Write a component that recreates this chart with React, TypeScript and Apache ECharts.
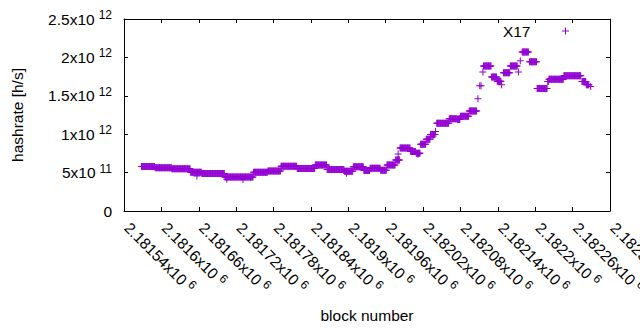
import React, { useEffect, useRef } from 'react';
import * as echarts from 'echarts';

// Runs of blocks that share the same hashrate (values in units of 1e12 h/s)
const runStart = [
  2181568, 2181590, 2181617, 2181647, 2181665, 2181702, 2181748, 2181771, 2181792, 2181818,
  2181847, 2181866, 2181894, 2181908, 2181925, 2181935, 2181952, 2181962, 2181976, 2181983,
  2182000, 2182009, 2182016, 2182025, 2182032, 2182042, 2182062, 2182075, 2182080, 2182094,
  2182117, 2182130, 2182139, 2182149, 2182160, 2182179, 2182191, 2182203, 2182220, 2182222,
  2182246, 2182275, 2182282,
];
const runEnd = [
  2181589, 2181616, 2181646, 2181664, 2181701, 2181747, 2181770, 2181791, 2181817, 2181846,
  2181865, 2181893, 2181907, 2181924, 2181934, 2181951, 2181961, 2181975, 2181982, 2181999,
  2182008, 2182015, 2182024, 2182031, 2182039, 2182061, 2182074, 2182079, 2182093, 2182106,
  2182129, 2182138, 2182145, 2182159, 2182171, 2182189, 2182202, 2182219, 2182221, 2182245,
  2182273, 2182281, 2182286,
];
const runValue = [
  0.58, 0.562, 0.55, 0.503, 0.488, 0.442, 0.505, 0.52, 0.582, 0.552,
  0.6, 0.54, 0.518, 0.575, 0.528, 0.557, 0.53, 0.6, 0.665, 0.82,
  0.775, 0.752, 0.87, 0.935, 0.995, 1.144, 1.2, 1.19, 1.235, 1.302,
  1.888, 1.744, 1.69, 1.8, 1.888, 2.07, 1.943, 1.595, 1.686, 1.717,
  1.76, 1.686, 1.643,
];

// Single blocks off their run
const pointBlock = [
  2181657, 2181705, 2181731, 2181897, 2181980, 2182012, 2182036, 2182040, 2182108, 2182111,
  2182113, 2182116, 2182146, 2182173, 2182176, 2182289,
];
const pointValue = [
  0.456, 0.415, 0.41, 0.49, 0.743, 0.743, 0.975, 1.034, 1.46, 1.63,
  1.63, 1.81, 1.645, 1.81, 1.956, 1.62,
];

const xMin = 2181540;
const xMax = 2182320;
const xStep = 60;
const yMax = 2.5e12;
const yStep = 0.5e12;

const SERIES_NAME = 'X17';
const COLOR = '#9400d3';
const FONT = 'Liberation Sans, Arial, sans-serif';
const PLUS = 'path://M3,0H4V3H7V4H4V7H3V4H0V3H3Z';

function buildData(): number[][] {
  const out: number[][] = [];
  for (let i = 0; i < runStart.length; i++) {
    for (let b = runStart[i]; b <= runEnd[i]; b++) out.push([b, runValue[i] * 1e12]);
  }
  for (let i = 0; i < pointBlock.length; i++) out.push([pointBlock[i], pointValue[i] * 1e12]);
  return out;
}

const rich = {
  m: { fontSize: 15.5, lineHeight: 20, fontFamily: FONT, color: '#000' },
  e: { fontSize: 12, lineHeight: 13, verticalAlign: 'top', padding: [0, 0, 0, 4], fontFamily: FONT, color: '#000' },
};

function yFmt(v: number): string {
  if (v === 0) return '{m|0}';
  const e = Math.floor(Math.log10(v) + 1e-9);
  const m = Number((v / Math.pow(10, e)).toFixed(6));
  return `{m|${m}x10}{e|${e}}`;
}
function xFmt(v: number): string {
  return `{m|${Number((v / 1e6).toFixed(6))}x10}{e|6}`;
}

export default function App() {
  const ref = useRef<HTMLDivElement>(null);
  useEffect(() => {
    document.body.style.margin = '0';
    if (!ref.current) return;
    const chart = echarts.init(ref.current, undefined, { renderer: 'svg' });
    const axisLine = { show: true, onZero: false, lineStyle: { color: '#000', width: 1 } };
    const tick = { show: true, inside: true, length: 4, lineStyle: { color: '#000', width: 1 } };
    chart.setOption({
      animation: false,
      backgroundColor: '#fff',
      textStyle: { fontFamily: FONT },
      grid: { left: 124, right: 30, top: 19, bottom: 119, containLabel: false, outerBoundsMode: 'none' },
      legend: {
        show: true,
        data: [SERIES_NAME],
        right: 66,
        top: 18,
        align: 'right',
        icon: PLUS,
        itemWidth: 60,
        itemHeight: 7,
        selectedMode: false,
        textStyle: { fontSize: 15.5, fontFamily: FONT, color: '#000' },
      },
      xAxis: [
        {
          type: 'value', position: 'bottom', min: xMin, max: xMax, interval: xStep,
          name: 'block number', nameLocation: 'middle', nameGap: 96,
          nameTextStyle: { fontSize: 15.5, fontFamily: FONT, color: '#000' },
          axisLine, axisTick: tick, splitLine: { show: false },
          axisLabel: { show: true, rotate: -45, margin: 11, padding: [0, 0, 0, 4.5], formatter: xFmt, rich, hideOverlap: false },
        },
        {
          type: 'value', position: 'top', min: xMin, max: xMax, interval: xStep,
          axisLine, axisTick: tick, splitLine: { show: false }, axisLabel: { show: false },
        },
      ],
      yAxis: [
        {
          type: 'value', position: 'left', min: 0, max: yMax, interval: yStep,
          name: 'hashrate [h/s]', nameLocation: 'middle', nameGap: 99, nameRotate: 90,
          nameTextStyle: { fontSize: 15.5, fontFamily: FONT, color: '#000' },
          axisLine, axisTick: tick, splitLine: { show: false },
          axisLabel: { show: true, margin: 12, formatter: yFmt, rich },
        },
        {
          type: 'value', position: 'right', min: 0, max: yMax, interval: yStep,
          axisLine, axisTick: tick, splitLine: { show: false }, axisLabel: { show: false },
        },
      ],
      series: [
        {
          name: SERIES_NAME,
          type: 'scatter',
          xAxisIndex: 0,
          yAxisIndex: 0,
          symbol: PLUS,
          symbolSize: 7,
          itemStyle: { color: COLOR, opacity: 1 },
          data: buildData(),
          silent: true,
        },
      ],
    });
    return () => chart.dispose();
  }, []);
  return <div ref={ref} style={{ position: 'fixed', left: 0, top: 0, width: 640, height: 330 }} />;
}
